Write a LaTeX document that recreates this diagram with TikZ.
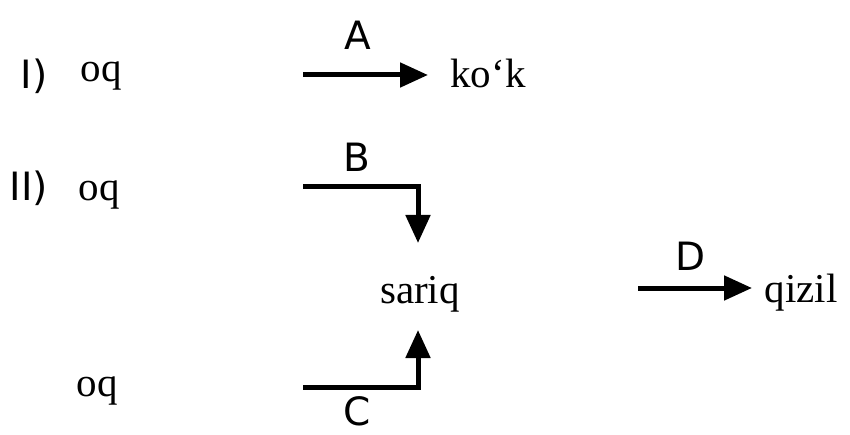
\documentclass[tikz,border=0pt]{standalone}
\usepackage{fontspec}
\setmainfont{Liberation Serif}
\newfontfamily\labfont{DejaVu Sans}
\usetikzlibrary{arrows.meta}
\tikzset{
  word/.style={inner sep=0pt, anchor=base, font=\fontsize{41}{43}\selectfont},
  lab/.style={inner sep=0pt, anchor=base, font=\labfont\fontsize{39}{41}\selectfont},
  arr/.style={line width=5pt, -{Triangle[length=28pt,width=24pt]}},
}
\begin{document}
\begin{tikzpicture}[x=1pt,y=-1pt]
\useasboundingbox (0,0) rectangle (850,435);
% row I
\node[lab] (n1) at (34,89) {I)};
\node[word] (oq1) at (101,82) {oq};
\node[word] (kok) at (488,88) {ko‘k};
\node[lab] (A) at (358,50) {A};
\coordinate (As) at (303,75);
\coordinate (Ae) at (428,75);
\draw[arr] (As) -- (Ae);
% row II
\node[lab] (n2) at (29,201) {II)};
\node[word] (oq2) at (99,201) {oq};
\node[word] (sariq) at (420,303) {sariq};
\node[word] (oq3) at (97,396) {oq};
\node[lab] (B) at (357,172) {B};
\node[lab] (C) at (357,425) {C};
\coordinate (Bs) at (303,187);
\coordinate (Be) at (418,243);
\draw[arr] (Bs) -| (Be);
\coordinate (Cs) at (303,387);
\coordinate (Ce) at (418,330);
\draw[arr] (Cs) -| (Ce);
% D
\node[word] (qizil) at (801,302) {qizil};
\node[lab] (D) at (691,271) {D};
\coordinate (Ds) at (638,288);
\coordinate (De) at (752,288);
\draw[arr] (Ds) -- (De);
\end{tikzpicture}
\end{document}
